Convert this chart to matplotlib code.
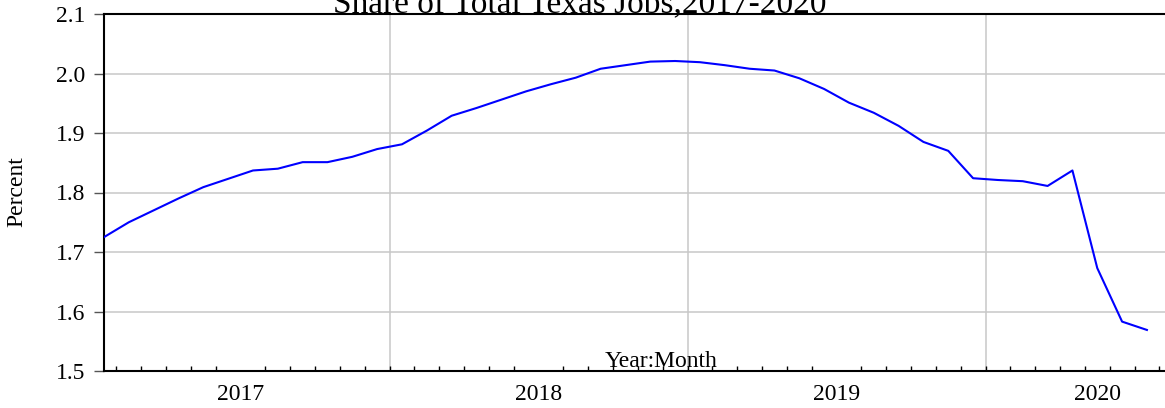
import numpy as np
import matplotlib
matplotlib.use('Agg')
import matplotlib.pyplot as plt
from matplotlib.ticker import FixedLocator, NullFormatter

# monthly share of total Texas jobs (%), Jan 2017 .. Jul 2020
share = [1.725, 1.750, 1.770, 1.790, 1.809, 1.823, 1.837, 1.840, 1.851, 1.851,
         1.860, 1.873, 1.881, 1.904, 1.929, 1.942, 1.956, 1.970, 1.982, 1.993,
         2.008, 2.014, 2.020, 2.021, 2.019, 2.014, 2.008, 2.005, 1.992, 1.974,
         1.951, 1.934, 1.912, 1.885, 1.870, 1.824, 1.821, 1.819, 1.811, 1.837,
         1.673, 1.583, 1.569]
years = ['2017', '2018', '2019', '2020']
year_pos = [5.5, 17.5, 29.5, 40.0]
year_breaks = [11.5, 23.5, 35.5]

plt.rcParams['font.family'] = ['Liberation Serif', 'DejaVu Serif']

W, H = 1165, 408
fig = plt.figure(figsize=(W / 100, H / 100), dpi=100)
# axes runs past the right edge of the picture, like the cropped original
ax = fig.add_axes([104 / W, 37 / H, 1105 / W, 357 / H])

t = np.arange(len(share))
ax.plot(t, share, color='#0000ff', lw=1.5, zorder=3)

ax.set_xlim(0, 44.5)
ax.set_ylim(1.5, 2.1)
ax.set_yticks([1.5, 1.6, 1.7, 1.8, 1.9, 2.0, 2.1])
ax.set_yticklabels(['1.5', '1.6', '1.7', '1.8', '1.9', '2.0', '2.1'])

ax.xaxis.set_major_locator(FixedLocator(year_pos))
ax.set_xticklabels(years)
ax.xaxis.set_minor_locator(FixedLocator(np.arange(0.5, 44.5, 1.0)))
ax.xaxis.set_minor_formatter(NullFormatter())

ax.tick_params(axis='x', which='major', length=0, pad=9, labelsize=17)
ax.tick_params(axis='x', which='minor', direction='in', length=3.6, width=1.0, color='black')
ax.tick_params(axis='y', direction='out', length=7.2, width=1.0, color='#555555', pad=6, labelsize=17)

for y in [1.6, 1.7, 1.8, 1.9, 2.0]:
    ax.axhline(y, color='#c8c8c8', lw=1.1, zorder=1)
for x in year_breaks:
    ax.axvline(x, color='#c8c8c8', lw=1.1, zorder=1)

for s in ['left', 'top', 'bottom']:
    ax.spines[s].set_linewidth(1.5)
    ax.spines[s].set_color('black')
ax.spines['right'].set_visible(False)

fig.text(580 / W, 1 - 12 / H, 'Share of Total Texas Jobs,2017-2020',
         fontsize=24, ha='center', va='baseline')
fig.text(661 / W, 1 - 367 / H, 'Year:Month', fontsize=17, ha='center', va='baseline')
fig.text(17 / W, 1 - 192 / H, 'Percent', fontsize=17, rotation=90, ha='center', va='center')

fig.savefig('out.png', dpi=100)
